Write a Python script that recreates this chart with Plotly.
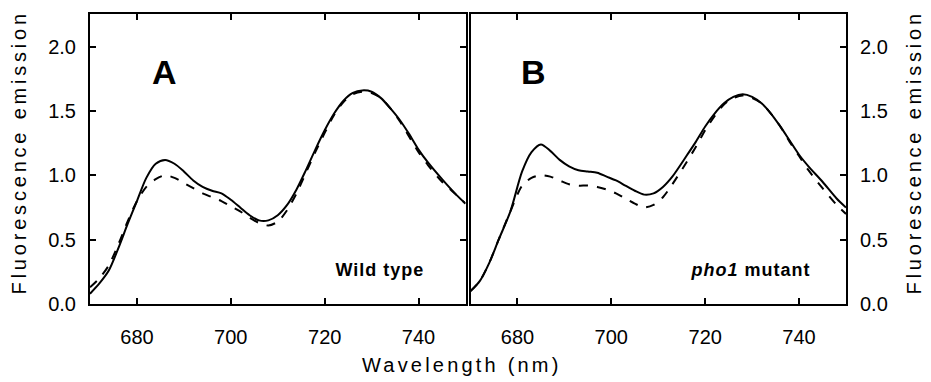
import plotly.graph_objects as go

# Panel A: wild type (wavelength in nm, fluorescence emission)
wl_a = [670, 672, 674, 676, 678, 680, 682, 684, 686, 688, 690, 692, 694, 696, 698, 700, 702, 704, 706, 708,
        710, 712, 714, 716, 718, 720, 722, 724, 726, 728, 730, 732, 734, 736, 738, 740, 742, 745, 748, 750]
wt_solid = [0.08, 0.16, 0.26, 0.43, 0.62, 0.80, 0.98, 1.09, 1.12, 1.09, 1.03, 0.96, 0.91, 0.88, 0.86, 0.81,
            0.75, 0.69, 0.65, 0.65, 0.69, 0.77, 0.89, 1.04, 1.20, 1.35, 1.48, 1.58, 1.64, 1.66, 1.65, 1.60,
            1.52, 1.43, 1.32, 1.20, 1.10, 0.97, 0.85, 0.78]
wt_dash = [0.13, 0.20, 0.30, 0.46, 0.64, 0.80, 0.91, 0.97, 1.00, 0.98, 0.94, 0.90, 0.86, 0.83, 0.80, 0.76,
           0.72, 0.67, 0.63, 0.61, 0.64, 0.73, 0.86, 1.02, 1.18, 1.33, 1.47, 1.57, 1.63, 1.65, 1.64, 1.60,
           1.52, 1.42, 1.30, 1.18, 1.08, 0.95, 0.85, 0.78]

# Panel B: pho1 mutant
wl_b = [670, 672, 674, 676, 678.5, 681, 683, 685, 687, 689, 691, 693, 695, 697, 699, 701, 703, 705, 707, 709,
        711, 713, 716, 718, 720, 722, 724, 726, 728, 730, 732, 734, 736, 738, 740, 742, 745, 748, 750]
mut_solid = [0.10, 0.18, 0.32, 0.50, 0.72, 1.03, 1.18, 1.24, 1.19, 1.12, 1.07, 1.04, 1.03, 1.02, 0.99, 0.96,
             0.92, 0.88, 0.85, 0.86, 0.91, 0.99, 1.15, 1.26, 1.38, 1.48, 1.56, 1.61, 1.63, 1.61, 1.56, 1.48,
             1.38, 1.27, 1.16, 1.07, 0.95, 0.82, 0.75]
mut_dash = [0.10, 0.18, 0.32, 0.50, 0.72, 0.92, 0.98, 1.00, 0.99, 0.96, 0.93, 0.92, 0.92, 0.91, 0.89, 0.86,
            0.82, 0.78, 0.75, 0.77, 0.83, 0.93, 1.10, 1.22, 1.35, 1.46, 1.55, 1.60, 1.62, 1.60, 1.56, 1.48,
            1.38, 1.26, 1.15, 1.04, 0.90, 0.77, 0.70]

x_ticks = [680, 700, 720, 740]
y_ticks = [0.0, 0.5, 1.0, 1.5, 2.0]
y_ticklabels = ["0.0", "0.5", "1.0", "1.5", "2.0"]

W, H = 931, 382
FONT = "Liberation Sans, Arial, Helvetica, sans-serif"

fig = go.Figure()
line_w = 2
fig.add_trace(go.Scatter(x=wl_a, y=wt_solid, mode="lines", line=dict(color="black", width=line_w, shape="spline", smoothing=0.8), xaxis="x", yaxis="y", showlegend=False))
fig.add_trace(go.Scatter(x=wl_a, y=wt_dash, mode="lines", line=dict(color="black", width=line_w, dash="dash", shape="spline", smoothing=0.8), xaxis="x", yaxis="y", showlegend=False))
fig.add_trace(go.Scatter(x=wl_b, y=mut_solid, mode="lines", line=dict(color="black", width=line_w, shape="spline", smoothing=0.8), xaxis="x2", yaxis="y2", showlegend=False))
fig.add_trace(go.Scatter(x=wl_b, y=mut_dash, mode="lines", line=dict(color="black", width=line_w, dash="dash", shape="spline", smoothing=0.8), xaxis="x2", yaxis="y2", showlegend=False))

ydom = [(H - 313) / H, (H - 14) / H]
common_x = dict(range=[670, 750], tickvals=x_ticks, ticks="inside", ticklen=6, tickwidth=1.5,
                tickcolor="black", showline=True, linecolor="black", linewidth=2, mirror="ticks",
                showgrid=False, zeroline=False, tickfont=dict(family=FONT, size=20, color="black"),
                ticklabelstandoff=14)
common_y = dict(range=[0, 2.257], tickvals=y_ticks, ticktext=y_ticklabels, ticks="inside", ticklen=6,
                tickwidth=1.5, tickcolor="black", showline=True, linecolor="black", linewidth=2,
                showgrid=False, zeroline=False, tickfont=dict(family=FONT, size=20, color="black"),
                ticklabelstandoff=8)

fig.update_layout(
    width=W, height=H, margin=dict(l=0, r=0, t=0, b=0),
    paper_bgcolor="white", plot_bgcolor="white",
    xaxis=dict(domain=[90 / W, 465.5 / W], anchor="y", **common_x),
    xaxis2=dict(domain=[470.5 / W, 846 / W], anchor="y2", **common_x),
    yaxis=dict(domain=ydom, anchor="x", side="left", mirror="ticks", **common_y),
    yaxis2=dict(domain=ydom, anchor="x2", side="right", mirror=True, **common_y),
)

ann = [
    dict(text="<b>A</b>", x=164, y=74, size=34),
    dict(text="<b>B</b>", x=533, y=74, size=34),
    dict(text="<b>Wild type</b>", x=380, y=278, size=18),
    dict(text="<b><i>pho1</i> mutant</b>", x=750, y=278, size=18),
]
for a in ann:
    fig.add_annotation(text=a["text"], x=a["x"] / W, y=1 - a["y"] / H, xref="paper", yref="paper",
                       showarrow=False, xanchor="center", yanchor="middle",
                       font=dict(family=FONT, size=a["size"], color="black"))

fig.add_annotation(text="Wavelength (nm)", x=462 / W, y=1 - 376 / H, xref="paper", yref="paper",
                   showarrow=False, xanchor="center", yanchor="middle",
                   font=dict(family=FONT, size=20, color="black"))
fig.add_annotation(text="Fluorescence emission", x=19 / W, y=1 - 157 / H, xref="paper", yref="paper",
                   showarrow=False, xanchor="center", yanchor="middle", textangle=-90,
                   font=dict(family=FONT, size=20, color="black"))
fig.add_annotation(text="Fluorescence emission", x=914 / W, y=1 - 157 / H, xref="paper", yref="paper",
                   showarrow=False, xanchor="center", yanchor="middle", textangle=-90,
                   font=dict(family=FONT, size=20, color="black"))

post = """
document.querySelectorAll('.annotation-text').forEach(function(t){
  var s = t.textContent;
  if (s.indexOf('Fluorescence') === 0) { t.setAttribute('letter-spacing', '3.8px'); }
  else if (s.indexOf('Wavelength') === 0) { t.setAttribute('letter-spacing', '3.2px'); }
  else if (s.indexOf('Wild') === 0 || s.indexOf('pho1') === 0) { t.setAttribute('letter-spacing', '1px'); }
});
"""

fig.write_html("out.html", post_script=post)
